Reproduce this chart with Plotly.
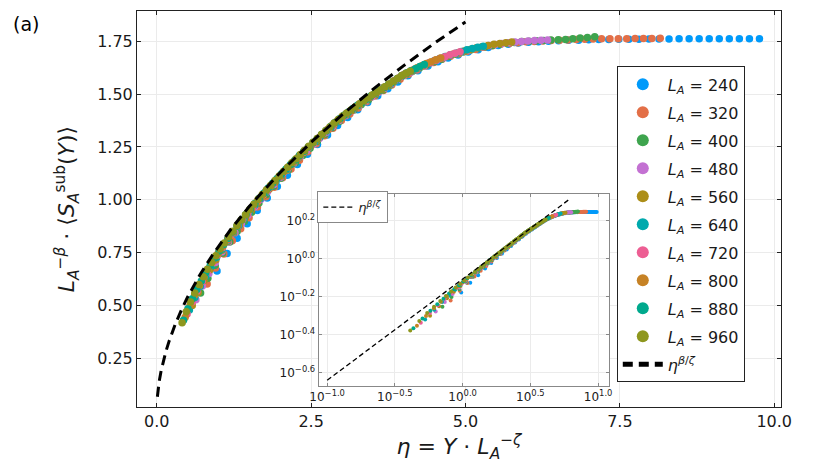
import plotly.graph_objects as go

# ---------------- data ----------------
zeta = 0.625  # eta = Y * L_A^(-zeta)
L_values = [240, 320, 400, 480, 560, 640, 720, 800, 880, 960]
Y_grid = [30, 35, 40, 45, 50, 55, 60, 65, 70, 75, 80, 85, 90, 95, 100, 105, 110, 115, 120, 125,
          130, 135, 140, 145, 150, 155, 160, 165, 170, 175, 180, 185, 190, 195, 200, 205, 210, 215,
          220, 225, 230, 235, 240, 245, 250, 255, 260, 265, 270, 275, 280, 285, 290, 295, 300]

y240 = [0.662, 0.745, 0.818, 0.886, 0.949, 1.008, 1.063, 1.116, 1.167, 1.215, 1.262, 1.307, 1.351, 1.390,
        1.426, 1.460, 1.493, 1.526, 1.558, 1.587, 1.611, 1.633, 1.653, 1.671, 1.686, 1.700, 1.711, 1.721,
        1.730, 1.736, 1.742, 1.746, 1.748, 1.751, 1.753, 1.755, 1.756, 1.758, 1.759, 1.759, 1.760, 1.760,
        1.760, 1.761, 1.761, 1.761, 1.762, 1.762, 1.762, 1.762, 1.762, 1.763, 1.763, 1.763, 1.763]
y320 = [0.601, 0.676, 0.743, 0.805, 0.862, 0.915, 0.966, 1.014, 1.059, 1.104, 1.146, 1.187, 1.227, 1.265,
        1.303, 1.339, 1.375, 1.406, 1.435, 1.464, 1.491, 1.517, 1.544, 1.571, 1.594, 1.614, 1.633, 1.650,
        1.665, 1.680, 1.691, 1.703, 1.712, 1.722, 1.729, 1.736, 1.740, 1.744, 1.748, 1.750, 1.752, 1.754,
        1.756, 1.757, 1.759, 1.760, 1.761, 1.762, 1.762, 1.763, 1.763, 1.764, 1.764, 1.764, 1.765]
y400 = [0.558, 0.628, 0.690, 0.747, 0.800, 0.850, 0.897, 0.941, 0.984, 1.025, 1.064, 1.102, 1.139, 1.175,
        1.210, 1.244, 1.277, 1.309, 1.341, 1.371, 1.399, 1.425, 1.450, 1.474, 1.498, 1.520, 1.543, 1.567,
        1.589, 1.607, 1.624, 1.639, 1.653, 1.665, 1.679, 1.689, 1.700, 1.709, 1.718, 1.725, 1.731, 1.736,
        1.741, 1.745, 1.749, 1.751, 1.753, 1.754, 1.757, 1.758, 1.759, 1.763, 1.766, 1.769, 1.772]
y480 = [0.526, 0.591, 0.650, 0.703, 0.753, 0.800, 0.844, 0.886, 0.926, 0.965, 1.002, 1.038, 1.072, 1.106,
        1.139, 1.171, 1.202, 1.232, 1.262, 1.291, 1.319, 1.347, 1.375, 1.398, 1.422, 1.444, 1.466, 1.487,
        1.508, 1.528, 1.549, 1.570, 1.589, 1.604, 1.621, 1.634, 1.648, 1.661, 1.672, 1.684, 1.693, 1.702,
        1.709, 1.718, 1.724, 1.730, 1.735, 1.740, 1.744, 1.747, 1.750, 1.752, 1.754, 1.755, 1.757]
y560 = [0.499, 0.561, 0.617, 0.668, 0.715, 0.760, 0.802, 0.842, 0.880, 0.916, 0.951, 0.986, 1.018, 1.050,
        1.081, 1.112, 1.141, 1.170, 1.198, 1.226, 1.253, 1.279, 1.305, 1.331, 1.356, 1.381, 1.402, 1.423,
        1.443, 1.464, 1.483, 1.501, 1.519, 1.537, 1.556, 1.575, 1.593, 1.607, 1.622, 1.635, 1.646, 1.659,
        1.669, 1.679, 1.689, 1.696, 1.704, 1.712, 1.719, 1.725, 1.730, 1.736, 1.740, 1.743, 1.747]
y640 = [0.478, 0.537, 0.590, 0.639, 0.684, 0.727, 0.767, 0.805, 0.841, 0.876, 0.910, 0.943, 0.974, 1.005,
        1.034, 1.063, 1.092, 1.119, 1.146, 1.173, 1.199, 1.224, 1.249, 1.273, 1.297, 1.321, 1.344, 1.367,
        1.390, 1.408, 1.428, 1.446, 1.464, 1.482, 1.500, 1.516, 1.533, 1.550, 1.568, 1.585, 1.599, 1.612,
        1.625, 1.637, 1.648, 1.658, 1.669, 1.678, 1.687, 1.694, 1.702, 1.710, 1.716, 1.722, 1.727]
y720 = [0.459, 0.516, 0.567, 0.614, 0.658, 0.699, 0.737, 0.774, 0.809, 0.842, 0.875, 0.906, 0.936, 0.966,
        0.994, 1.022, 1.050, 1.076, 1.102, 1.127, 1.152, 1.176, 1.200, 1.224, 1.247, 1.270, 1.292, 1.314,
        1.336, 1.357, 1.378, 1.397, 1.416, 1.433, 1.450, 1.467, 1.484, 1.500, 1.515, 1.531, 1.547, 1.563,
        1.578, 1.594, 1.605, 1.618, 1.630, 1.640, 1.650, 1.660, 1.669, 1.677, 1.687, 1.694, 1.701]
y800 = [0.443, 0.498, 0.548, 0.593, 0.635, 0.674, 0.712, 0.747, 0.781, 0.813, 0.845, 0.875, 0.904, 0.932,
        0.960, 0.987, 1.013, 1.039, 1.064, 1.088, 1.112, 1.136, 1.159, 1.182, 1.204, 1.226, 1.248, 1.269,
        1.290, 1.310, 1.331, 1.351, 1.371, 1.390, 1.407, 1.423, 1.439, 1.455, 1.471, 1.486, 1.502, 1.516,
        1.531, 1.546, 1.561, 1.576, 1.590, 1.602, 1.613, 1.625, 1.635, 1.645, 1.654, 1.663, 1.671]
y880 = [0.429, 0.483, 0.531, 0.575, 0.615, 0.654, 0.690, 0.724, 0.757, 0.788, 0.818, 0.848, 0.876, 0.904,
        0.930, 0.956, 0.982, 1.007, 1.031, 1.055, 1.078, 1.101, 1.123, 1.145, 1.167, 1.188, 1.209, 1.229,
        1.250, 1.270, 1.289, 1.309, 1.328, 1.347, 1.366, 1.384, 1.400, 1.415, 1.432, 1.447, 1.461, 1.476,
        1.491, 1.505, 1.519, 1.532, 1.546, 1.560, 1.574, 1.588, 1.600, 1.611, 1.621, 1.631, 1.640]
y960 = [0.417, 0.469, 0.516, 0.558, 0.598, 0.635, 0.670, 0.703, 0.735, 0.766, 0.795, 0.824, 0.851, 0.878,
        0.904, 0.929, 0.954, 0.978, 1.002, 1.025, 1.047, 1.069, 1.091, 1.112, 1.134, 1.154, 1.175, 1.194,
        1.214, 1.234, 1.253, 1.272, 1.290, 1.309, 1.327, 1.345, 1.363, 1.380, 1.396, 1.411, 1.425, 1.439,
        1.455, 1.468, 1.482, 1.496, 1.509, 1.521, 1.535, 1.548, 1.561, 1.574, 1.588, 1.599, 1.609]

series_values = [y240, y320, y400, y480, y560, y640, y720, y800, y880, y960]
series_colors = ["#009AFA", "#E36F47", "#3EA44E", "#C371D2", "#AC8E18",
                 "#00A9AD", "#ED5E93", "#C68225", "#00A98D", "#8E971E"]

# reference power law eta^(beta/zeta)
ref_eta = [0.01, 0.015, 0.02, 0.03, 0.04, 0.07, 0.1, 0.15, 0.2, 0.3, 0.4, 0.5, 0.7, 0.9,
           1.2, 1.5, 2.0, 2.5, 3.0, 3.5, 4.0, 4.5, 5.0]
ref_val = [0.0667, 0.0828, 0.0966, 0.120, 0.140, 0.1885, 0.228, 0.283, 0.330, 0.410, 0.478, 0.539,
           0.645, 0.737, 0.860, 0.969, 1.129, 1.272, 1.402, 1.523, 1.635, 1.742, 1.842]
inset_ref_eta = [0.1, 6.12]
inset_ref_val = [0.228, 2.052]

main_xticks = [0.0, 2.5, 5.0, 7.5, 10.0]
main_yticks = [0.25, 0.50, 0.75, 1.00, 1.25, 1.50, 1.75]
inset_xtick_exp = [-1.0, -0.5, 0.0, 0.5, 1.0]
inset_ytick_exp = [-0.6, -0.4, -0.2, 0.0, 0.2]

# ---------------- figure ----------------
FONT = "DejaVu Sans"
fig = go.Figure()

for L, c, yv in zip(L_values, series_colors, series_values):
    eta = [Yv / L ** zeta for Yv in Y_grid]
    fig.add_trace(go.Scatter(
        x=eta, y=yv, mode="markers",
        marker=dict(color=c, size=7.5, line=dict(width=0)),
        name=f"<i>L</i><sub><i>A</i></sub> = {L}",
        legendgroup=str(L), xaxis="x", yaxis="y"))

fig.add_trace(go.Scatter(
    x=ref_eta, y=ref_val, mode="lines",
    line=dict(color="black", width=3, dash="10px,6px"),
    name="<i>η</i><sup><i>β</i>/<i>ζ</i></sup>", legendgroup="ref",
    xaxis="x", yaxis="y"))

for L, c, yv in zip(L_values, series_colors, series_values):
    eta = [Yv / L ** zeta for Yv in Y_grid]
    fig.add_trace(go.Scatter(
        x=eta, y=yv, mode="markers",
        marker=dict(color=c, size=4, line=dict(width=0)),
        showlegend=False, xaxis="x2", yaxis="y2"))

fig.add_trace(go.Scatter(
    x=inset_ref_eta, y=inset_ref_val, mode="lines",
    line=dict(color="black", width=1.3, dash="5px,3px"),
    name="<i>η</i><sup><i>β</i>/<i>ζ</i></sup>", legend="legend2",
    xaxis="x2", yaxis="y2"))

axis_common = dict(showgrid=True, gridcolor="#ebebeb", gridwidth=1, zeroline=False,
                   showline=True, mirror="ticks", ticks="inside")

fig.update_layout(
    width=830, height=467,
    margin=dict(l=129, r=57, t=3, b=68),
    paper_bgcolor="white", plot_bgcolor="white",
    font=dict(family=FONT, color="#1a1a1a"),
    xaxis=dict(domain=[0, 1], range=[-0.32, 10.11], tickvals=main_xticks,
               ticktext=[f"{v:.1f}" for v in main_xticks],
               tickfont=dict(size=16, family=FONT), linecolor="#222", linewidth=1,
               ticklen=4, tickcolor="#222",
               title=dict(text="<i>η</i> = <i>Y</i> · <i>L</i><sub><i>A</i></sub><sup>−<i>ζ</i></sup>",
                          font=dict(size=22, family=FONT), standoff=0),
               **axis_common),
    yaxis=dict(domain=[0, 1], range=[0.018, 1.894], tickvals=main_yticks,
               ticktext=[f"{v:.2f}" for v in main_yticks],
               tickfont=dict(size=16, family=FONT), linecolor="#222", linewidth=1,
               ticklen=4, tickcolor="#222",
               title=dict(text="<i>L</i><sub><i>A</i></sub><sup>−<i>β</i></sup> · ⟨<i>S</i><sub><i>A</i></sub><sup>sub</sup>(<i>Y</i>)⟩",
                          font=dict(size=22, family=FONT), standoff=16),
               **axis_common),
    xaxis2=dict(domain=[0.282, 0.7335], anchor="y2", type="log", range=[-1.063, 1.083],
                tickvals=[10 ** e for e in inset_xtick_exp],
                ticktext=[f"10<sup>{e:.1f}</sup>".replace("-", "−") for e in inset_xtick_exp],
                tickfont=dict(size=12, family=FONT), linecolor="#888", linewidth=1,
                ticklen=3, tickcolor="#888", **axis_common),
    yaxis2=dict(domain=[0.053, 0.538], anchor="x2", type="log", range=[-0.672, 0.341],
                tickvals=[10 ** e for e in inset_ytick_exp],
                ticktext=[f"10<sup>{e:.1f}</sup>".replace("-", "−") for e in inset_ytick_exp],
                tickfont=dict(size=12, family=FONT), linecolor="#888", linewidth=1,
                ticklen=3, tickcolor="#888", **axis_common),
    legend=dict(x=0.745, y=0.86, xanchor="left", yanchor="top",
                bgcolor="white", bordercolor="#222", borderwidth=1,
                font=dict(size=16, family=FONT), itemsizing="constant",
                tracegroupgap=4.2, itemwidth=40),
    legend2=dict(x=0.28, y=0.545, xanchor="left", yanchor="top",
                 bgcolor="white", bordercolor="#888", borderwidth=1,
                 font=dict(size=13, family=FONT)),
    annotations=[dict(text="(a)", x=-0.196, y=1.0, xref="paper", yref="paper",
                      xanchor="left", yanchor="top", showarrow=False,
                      font=dict(size=19, family=FONT, color="black"))],
)

fig.write_html("out.html")
